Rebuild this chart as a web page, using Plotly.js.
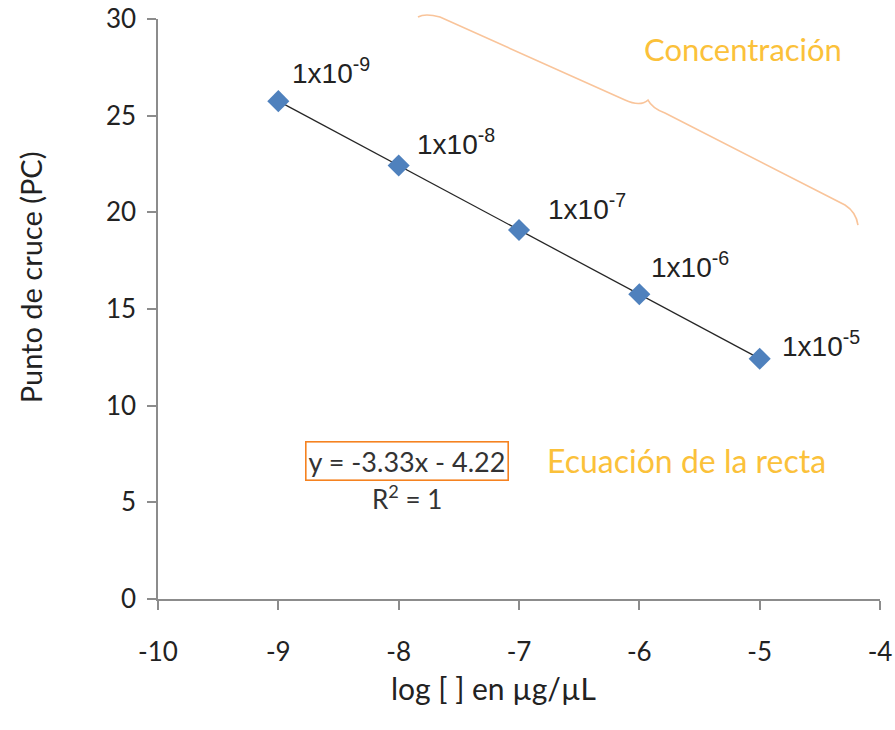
<!DOCTYPE html>
<html>
<head>
<meta charset="utf-8">
<script src="https://cdn.plot.ly/plotly-3.0.1.min.js"></script>
<style>
  html, body { margin: 0; padding: 0; background: #ffffff; }
  #chart { width: 895px; height: 730px; }
</style>
</head>
<body>
<div id="chart"></div>
<script>
// Curva estándar: log de la concentración frente al punto de cruce
const logConc = [-9, -8, -7, -6, -5];
const puntoCruce = [25.75, 22.42, 19.09, 15.76, 12.43];
const etiquetas = ['1x10<sup>-9</sup>', '1x10<sup>-8</sup>', '1x10<sup>-7</sup>', '1x10<sup>-6</sup>', '1x10<sup>-5</sup>'];
const ecuacion = 'y = -3.33x - 4.22';
const r2 = 'R<sup>2</sup> = 1';

// marcas de los ejes (con guion simple, como en la hoja de cálculo)
const xTicks = [-10, -9, -8, -7, -6, -5, -4];
const xTickText = ['-10', '-9', '-8', '-7', '-6', '-5', '-4'];
const yTicks = [0, 5, 10, 15, 20, 25, 30];
const yTickText = ['0', '5', '10', '15', '20', '25', '30'];

// desplazamiento (px) de cada etiqueta respecto a su punto
const desplaz = [[12, 30], [16, 24], [27, 23], [10, 29], [20, 15]];

const tendencia = {
  x: logConc, y: puntoCruce, mode: 'lines', hoverinfo: 'skip',
  line: { color: '#262626', width: 1.3 }, showlegend: false
};
const puntos = {
  x: logConc, y: puntoCruce, mode: 'markers',
  marker: { symbol: 'diamond', size: 17, color: '#4f81bd', line: { width: 0 } },
  showlegend: false
};

const notas = etiquetas.map((t, i) => ({
  x: logConc[i], y: puntoCruce[i], xref: 'x', yref: 'y', text: t,
  showarrow: false, xanchor: 'left', yanchor: 'middle',
  xshift: desplaz[i][0], yshift: desplaz[i][1],
  font: { family: 'Liberation Sans', size: 28, color: '#222222' }
}));

notas.push({
  x: -7.93, y: 7.14, xref: 'x', yref: 'y', text: ecuacion, showarrow: false,
  font: { family: 'Lato', size: 27, color: '#333333' },
  bordercolor: '#f58220', borderwidth: 1.6, borderpad: 2
});
notas.push({
  x: -7.93, y: 5.25, xref: 'x', yref: 'y', text: r2, showarrow: false,
  font: { family: 'Lato', size: 26, color: '#333333' }
});
notas.push({
  x: -6.784, y: 7.14, xref: 'x', yref: 'y', text: 'Ecuación de la recta', showarrow: false,
  xanchor: 'left', font: { family: 'Lato', size: 32, color: '#fbc13a' }
});
notas.push({
  x: -5.978, y: 28.45, xref: 'x', yref: 'y', text: 'Concentración', showarrow: false,
  xanchor: 'left', font: { family: 'Lato', size: 31, color: '#fbc13a' }
});

// títulos de los ejes
notas.push({
  x: 0.464, y: -0.153, xref: 'paper', yref: 'paper', text: 'log [ ] en µg/µL',
  xanchor: 'center', yanchor: 'middle',
  showarrow: false, font: { family: 'Lato', size: 30, color: '#222222' }
});
notas.push({
  x: -0.177, y: 0.555, xref: 'paper', yref: 'paper', text: 'Punto de cruce (PC)',
  xanchor: 'center', yanchor: 'middle',
  textangle: -90, showarrow: false, font: { family: 'Lato', size: 29, color: '#222222' }
});

const llave = {
  type: 'path', xref: 'paper', yref: 'paper',
  path: 'M 0.3601 1.0034 Q 0.3698 1.0103 0.3906 1.0034 L 0.6468 0.8603 ' +
        'Q 0.6676 0.8483 0.6787 0.8603 Q 0.6842 0.8466 0.7022 0.8379 ' +
        'L 0.9515 0.6793 Q 0.9668 0.6672 0.9695 0.6448',
  line: { color: '#f9c49a', width: 1.6 }
};

const ejeFuente = { family: 'Lato', size: 26, color: '#222222' };

const layout = {
  width: 895, height: 730,
  margin: { l: 158, r: 15, t: 19, b: 131 },
  paper_bgcolor: '#ffffff', plot_bgcolor: '#ffffff',
  xaxis: {
    range: [-10, -4], tickmode: 'array', tickvals: xTicks, ticktext: xTickText,
    showgrid: false, zeroline: false,
    showline: true, linecolor: '#8c8c8c', linewidth: 1.5,
    ticks: 'outside', ticklen: 9, tickcolor: '#8c8c8c', tickwidth: 1.5,
    tickfont: ejeFuente, ticklabelstandoff: 20
  },
  yaxis: {
    range: [0, 30], tickmode: 'array', tickvals: yTicks, ticktext: yTickText,
    showgrid: false, zeroline: false,
    showline: true, linecolor: '#8c8c8c', linewidth: 1.5,
    ticks: 'outside', ticklen: 9, tickcolor: '#8c8c8c', tickwidth: 1.5,
    tickfont: ejeFuente, ticklabelstandoff: 6
  },
  annotations: notas,
  shapes: [llave]
};

Plotly.newPlot('chart', [tendencia, puntos], layout, { displayModeBar: false });
</script>
</body>
</html>
